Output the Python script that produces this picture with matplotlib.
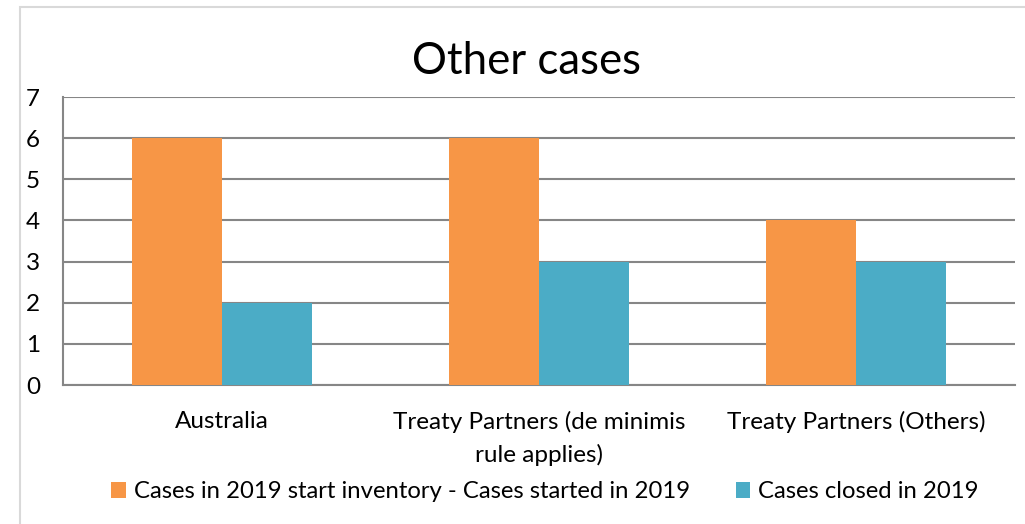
import matplotlib
matplotlib.use("Agg")
import matplotlib.pyplot as plt
from matplotlib.patches import Rectangle
import numpy as np

categories = ["Australia", "Treaty Partners (de minimis\nrule applies)", "Treaty Partners (Others)"]
series_names = ["Cases in 2019 start inventory - Cases started in 2019", "Cases closed in 2019"]
started = [6, 6, 4]
closed = [2, 3, 3]
colors = ["#F79646", "#4BACC6"]

plt.rcParams['font.family'] = ['Lato', 'DejaVu Sans']

fig = plt.figure(figsize=(10.25, 5.24), dpi=100)
ax = fig.add_axes([63/1025, 1-385/524, (1015-63)/1025, (385-97)/524])

x = np.arange(len(categories))
w = 0.284
ax.bar(x - w/2, started, w, color=colors[0], label=series_names[0], zorder=3)
ax.bar(x + w/2, closed, w, color=colors[1], label=series_names[1], zorder=3)

ax.set_xlim(-0.5, len(categories) - 0.5)
ax.set_ylim(0, 7)
ax.set_yticks(range(0, 8))
ax.yaxis.grid(True, color="#868686", linewidth=1.5, zorder=0)
ax.set_xticks(x)
ax.set_xticklabels(categories, fontsize=17.5, linespacing=1.6)
ax.tick_params(axis='x', length=0, pad=18.5)
ax.tick_params(axis='y', length=0, pad=16.5, labelsize=17.5)

for s in ["top", "right"]:
    ax.spines[s].set_visible(False)
for s in ["left", "bottom"]:
    ax.spines[s].set_color("#868686")
    ax.spines[s].set_linewidth(1.5)

fig.text(526/1025, 1-62/524, "Other cases", ha="center", va="center", fontsize=31.5)

leg = fig.legend(loc="center", bbox_to_anchor=(545/1025, 1-492/524), ncol=2, frameon=False,
                 fontsize=17.2, handlelength=0.6, handleheight=0.6, handletextpad=0.35,
                 columnspacing=1.9)

fig.patches.append(Rectangle((20/1025, -0.1), 1.2, 1.1 - 7/524, transform=fig.transFigure,
                             fill=False, edgecolor="#D9D9D9", linewidth=1.5))

fig.savefig("out.png", dpi=100)
